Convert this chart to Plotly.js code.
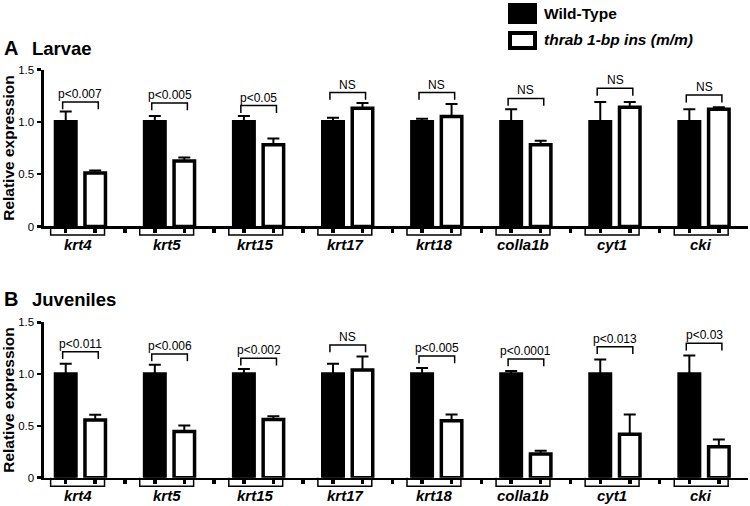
<!DOCTYPE html>
<html>
<head>
<meta charset="utf-8">
<script src="https://cdn.plot.ly/plotly-3.0.1.min.js"></script>
<style>html,body{margin:0;padding:0;background:#fff;}#chart{width:750px;height:506px;}</style>
</head>
<body>
<div id="chart"></div>
<script>
// ---- data ----
var genes = ['krt4','krt5','krt15','krt17','krt18','colla1b','cyt1','cki'];
var seriesNames = ['Wild-Type','thrab 1-bp ins (m/m)'];

var larvaeWT      = [1, 1, 1, 1, 1, 1, 1, 1];
var larvaeWTErr   = [0.10, 0.055, 0.055, 0.04, 0.03, 0.12, 0.19, 0.12];
var larvaeMut     = [0.51, 0.625, 0.78, 1.13, 1.05, 0.78, 1.14, 1.12];
var larvaeMutErr  = [0.025, 0.035, 0.06, 0.05, 0.12, 0.04, 0.05, 0.02];
var larvaeP       = ['p<0.007','p<0.005','p<0.05','NS','NS','NS','NS','NS'];
var larvaeBracket = [1.19, 1.18, 1.155, 1.28, 1.28, 1.224, 1.32, 1.256];

var juvWT      = [1, 1, 1, 1, 1, 1, 1, 1];
var juvWTErr   = [0.10, 0.09, 0.05, 0.10, 0.06, 0.03, 0.14, 0.18];
var juvMut     = [0.557, 0.445, 0.563, 1.04, 0.55, 0.23, 0.42, 0.30];
var juvMutErr  = [0.05, 0.06, 0.03, 0.13, 0.06, 0.03, 0.19, 0.07];
var juvP       = ['p<0.011','p<0.006','p<0.002','NS','p<0.005','p<0.0001','p<0.013','p<0.03'];
var juvBracket = [1.216, 1.194, 1.152, 1.28, 1.174, 1.146, 1.264, 1.297];

var yTickVals = [0, 0.5, 1.0, 1.5];
var yTickText = ['0', '0.5', '1.0', '1.5'];

// ---- layout constants ----
var W = 750, H = 506;
var FONT = 'Liberation Sans, Arial, Helvetica, sans-serif';
var BARGAP = 0.338, BARGROUPGAP = 0.305;
var slot = (1 - BARGAP) / 2;
var xs = genes.map(function(_, i){ return i; });
var xRange = [-0.415, 7.49];
var xDomain = [0.058, 0.997];
var yDomTop = [0.5524, 0.8626];
var yDomBot = [0.0559, 0.3630];

function zeros(n){ var a=[]; for (var i=0;i<n;i++) a.push(0); return a; }

function barTrace(vals, errs, isWT, xa, ya){
  return {
    type: 'bar', x: xs, y: vals, xaxis: xa, yaxis: ya,
    name: isWT ? seriesNames[0] : seriesNames[1],
    showlegend: false, hoverinfo: 'skip',
    marker: { color: isWT ? '#000' : '#fff', line: { color: '#000', width: 3.5 } },
    error_y: { type: 'data', symmetric: false, array: errs, arrayminus: zeros(errs.length),
               color: '#000', thickness: 2, width: 6 }
  };
}

var data = [
  barTrace(larvaeWT, larvaeWTErr, true, 'x', 'y'),
  barTrace(larvaeMut, larvaeMutErr, false, 'x', 'y'),
  barTrace(juvWT, juvWTErr, true, 'x2', 'y2'),
  barTrace(juvMut, juvMutErr, false, 'x2', 'y2')
];

// tick marks at bar centres and between groups
var xTicks = [];
xs.forEach(function(i){
  xTicks.push(i - slot/2, i + slot/2);
  if (i < xs.length - 1) xTicks.push(i + 0.5);
});

function xAxis(anchor){
  return { domain: xDomain, range: xRange, anchor: anchor, showgrid: false, zeroline: false,
    showline: true, linecolor: '#000', linewidth: 2.5, ticks: 'outside', ticklen: 4, tickwidth: 3.5,
    tickcolor: '#000', tickmode: 'array', tickvals: xTicks, showticklabels: false, fixedrange: true };
}
function yAxis(anchor, dom){
  return { domain: dom, range: [0, 1.5], anchor: anchor, showgrid: false, zeroline: false,
    showline: true, linecolor: '#000', linewidth: 3, ticks: 'outside', ticklen: 4, tickwidth: 2.5,
    tickcolor: '#000', tickmode: 'array', tickvals: yTickVals, ticktext: yTickText,
    tickfont: { family: FONT, size: 11.5, color: '#000' },
    title: { text: '<b>Relative expression</b>', font: { family: FONT, size: 15.5, color: '#000' }, standoff: 2 },
    fixedrange: true };
}

var shapes = [], annotations = [];

function addPanel(xa, ya, yDom, pvals, brackets){
  var axisY = yDom[0];
  var brY = yDom[0] - 8.5 / H;
  xs.forEach(function(i){
    // group bracket below axis
    var x0 = i - 0.335, x1 = i + 0.27;
    shapes.push({ type: 'path', xref: xa, yref: 'paper',
      path: 'M' + x0 + ',' + axisY + ' L' + x0 + ',' + brY + ' L' + x1 + ',' + brY + ' L' + x1 + ',' + axisY,
      line: { color: '#000', width: 1.5 } });
    annotations.push({ xref: xa, yref: 'paper', x: i - 0.03, y: brY - 9.5 / H, text: '<b><i>' + genes[i] + '</i></b>',
      showarrow: false, xanchor: 'center', yanchor: 'middle', font: { family: FONT, size: 15, color: '#000' } });
    // significance bracket
    var b = brackets[i], drop = 0.07, bx0 = i - 0.2, bx1 = i + 0.2;
    shapes.push({ type: 'path', xref: xa, yref: ya,
      path: 'M' + bx0 + ',' + (b - drop) + ' L' + bx0 + ',' + b + ' L' + bx1 + ',' + b + ' L' + bx1 + ',' + (b - drop),
      line: { color: '#000', width: 1.5 } });
    annotations.push({ xref: xa, yref: ya, x: i, y: b, text: pvals[i], showarrow: false,
      xanchor: 'center', yanchor: 'bottom', yshift: -1, font: { family: FONT, size: 12, color: '#000' } });
  });
}
addPanel('x', 'y', yDomTop, larvaeP, larvaeBracket);
addPanel('x2', 'y2', yDomBot, juvP, juvBracket);

// panel titles
function panelTitle(letter, label, yPx){
  annotations.push({ xref: 'paper', yref: 'paper', x: 2 / W, y: 1 - yPx / H, text: '<b>' + letter + '</b>',
    showarrow: false, xanchor: 'left', yanchor: 'middle', font: { family: FONT, size: 20, color: '#000' } });
  annotations.push({ xref: 'paper', yref: 'paper', x: 30 / W, y: 1 - (yPx + 1) / H, text: '<b>' + label + '</b>',
    showarrow: false, xanchor: 'left', yanchor: 'middle', font: { family: FONT, size: 18.5, color: '#000' } });
}
panelTitle('A', 'Larvae', 47.5);
panelTitle('B', 'Juveniles', 298.5);

// legend
shapes.push({ type: 'rect', xref: 'paper', yref: 'paper', x0: 508 / W, x1: 537 / W, y0: 1 - 24 / H, y1: 1 - 3 / H,
  fillcolor: '#000', line: { color: '#000', width: 0 } });
shapes.push({ type: 'rect', xref: 'paper', yref: 'paper', x0: 510 / W, x1: 535 / W, y0: 1 - 48 / H, y1: 1 - 33 / H,
  fillcolor: '#fff', line: { color: '#000', width: 4 } });
annotations.push({ xref: 'paper', yref: 'paper', x: 542 / W, y: 1 - 13.5 / H, text: '<b>' + seriesNames[0] + '</b>',
  showarrow: false, xanchor: 'left', yanchor: 'middle', font: { family: FONT, size: 15.5, color: '#000' } });
annotations.push({ xref: 'paper', yref: 'paper', x: 542 / W, y: 1 - 40 / H, text: '<b><i>' + seriesNames[1] + '</i></b>',
  showarrow: false, xanchor: 'left', yanchor: 'middle', font: { family: FONT, size: 15.5, color: '#000' } });

var layout = {
  width: W, height: H, margin: { l: 0, r: 0, t: 0, b: 0 },
  paper_bgcolor: '#fff', plot_bgcolor: '#fff',
  barmode: 'group', bargap: BARGAP, bargroupgap: BARGROUPGAP,
  showlegend: false,
  xaxis: xAxis('y'), yaxis: yAxis('x', yDomTop),
  xaxis2: xAxis('y2'), yaxis2: yAxis('x2', yDomBot),
  shapes: shapes, annotations: annotations,
  font: { family: FONT, color: '#000' }
};

Plotly.newPlot('chart', data, layout, { staticPlot: true, displayModeBar: false });
</script>
</body>
</html>
